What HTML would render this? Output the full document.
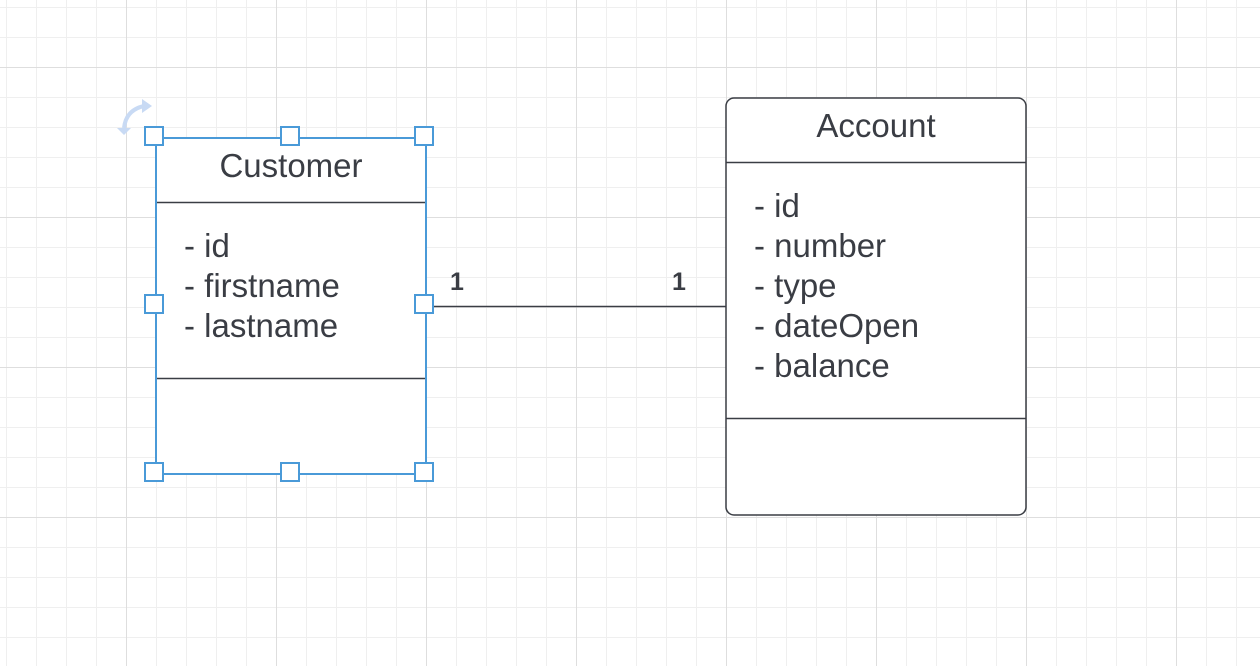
<!DOCTYPE html>
<html><head><meta charset="utf-8"><style>
html,body{margin:0;padding:0;background:#fff;}
svg{display:block;}
text{font-family:"Liberation Sans",Arial,sans-serif;fill:#3a3d44;}
</style></head><body>
<svg width="1260" height="666" viewBox="0 0 1260 666" xmlns="http://www.w3.org/2000/svg">
<defs>
<pattern id="minor" width="30" height="30" patternUnits="userSpaceOnUse" x="6" y="7">
<path d="M0.5 0V30M0 0.5H30" stroke="#efefef" stroke-width="1" fill="none"/>
</pattern>
<pattern id="major" width="150" height="150" patternUnits="userSpaceOnUse" x="126" y="67">
<path d="M0.5 0V150M0 0.5H150" stroke="#dedede" stroke-width="1" fill="none"/>
</pattern>
</defs>
<rect width="1260" height="666" fill="#fff"/>
<rect width="1260" height="666" fill="url(#minor)"/>
<rect width="1260" height="666" fill="url(#major)"/>

<line x1="426" y1="306.5" x2="726" y2="306.5" stroke="#3a3d44" stroke-width="1.5"/>
<text x="457" y="290" font-size="25" font-weight="bold" text-anchor="middle">1</text>
<text x="679" y="290" font-size="25" font-weight="bold" text-anchor="middle">1</text>

<rect x="156" y="138" width="270" height="336" fill="#fff" stroke="#3a3d44" stroke-width="1.5"/>
<line x1="156" y1="202.5" x2="426" y2="202.5" stroke="#3a3d44" stroke-width="1.5"/>
<line x1="156" y1="378.5" x2="426" y2="378.5" stroke="#3a3d44" stroke-width="1.5"/>
<text x="291" y="177" font-size="33" text-anchor="middle">Customer</text>
<text x="184" y="257" font-size="33">- id</text>
<text x="184" y="297" font-size="33">- firstname</text>
<text x="184" y="337" font-size="33">- lastname</text>
<rect x="156" y="138" width="270" height="336" fill="none" stroke="#4a9ad8" stroke-width="2"/>
<g fill="#fff" stroke="#4a9ad8" stroke-width="2">
<rect x="145" y="127" width="18" height="18"/>
<rect x="281" y="127" width="18" height="18"/>
<rect x="415" y="127" width="18" height="18"/>
<rect x="145" y="295" width="18" height="18"/>
<rect x="415" y="295" width="18" height="18"/>
<rect x="145" y="463" width="18" height="18"/>
<rect x="281" y="463" width="18" height="18"/>
<rect x="415" y="463" width="18" height="18"/>
</g>
<path d="M124 128 Q126 110 144 106" stroke="#c8daf4" stroke-width="4" fill="none"/>
<path d="M142 99 L152 106 L142 113 Z" fill="#c8daf4"/>
<path d="M117 128 L124 135 L131 128 Z" fill="#c8daf4"/>

<rect x="726" y="98" width="300" height="417" rx="8" fill="#fff" stroke="#3a3d44" stroke-width="1.5"/>
<line x1="726" y1="162.5" x2="1026" y2="162.5" stroke="#3a3d44" stroke-width="1.5"/>
<line x1="726" y1="418.5" x2="1026" y2="418.5" stroke="#3a3d44" stroke-width="1.5"/>
<text x="876" y="137" font-size="33" text-anchor="middle">Account</text>
<text x="754" y="217" font-size="33">- id</text>
<text x="754" y="257" font-size="33">- number</text>
<text x="754" y="297" font-size="33">- type</text>
<text x="754" y="337" font-size="33">- dateOpen</text>
<text x="754" y="377" font-size="33">- balance</text>
</svg>
</body></html>
